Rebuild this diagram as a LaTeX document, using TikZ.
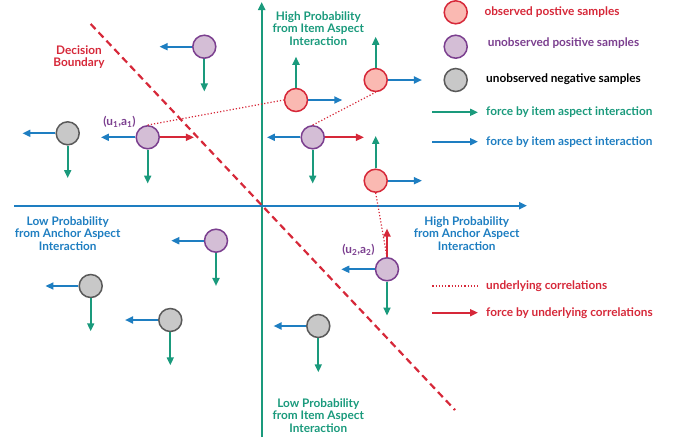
\documentclass[tikz,border=0pt]{standalone}
\usepackage{fontspec}
\setmainfont{Lato}[BoldFont={Lato Bold}]
\usetikzlibrary{arrows.meta}
\definecolor{cgreen}{RGB}{26,154,124}
\definecolor{cblue}{RGB}{30,126,193}
\definecolor{cred}{RGB}{214,40,57}
\definecolor{cpurple}{RGB}{123,63,143}
\definecolor{cpurplefill}{RGB}{212,190,214}
\definecolor{credfill}{RGB}{250,185,178}
\definecolor{cgrayfill}{RGB}{200,200,200}
\definecolor{cgraydraw}{RGB}{90,90,90}
\tikzset{
  txt/.style={font=\fontsize{11.8}{12.6}\selectfont\bfseries, align=center, inner sep=0pt},
  ltxt/.style={font=\fontsize{11.8}{12.6}\selectfont\bfseries, anchor=west, inner sep=0pt},
  smp/.style={circle, line width=1.5pt, minimum size=23pt, inner sep=0pt},
  obs/.style={smp, draw=cred, fill=credfill},
  unpos/.style={smp, draw=cpurple, fill=cpurplefill},
  unneg/.style={smp, draw=cgraydraw, fill=cgrayfill},
  tipstyle/.style={-{Triangle[length=8pt,width=7pt]}},
  garr/.style={tipstyle, draw=cgreen, fill=cgreen, line width=1.8pt},
  barr/.style={tipstyle, draw=cblue, fill=cblue, line width=1.8pt},
  rarr/.style={tipstyle, draw=cred, fill=cred, line width=1.8pt},
  corr/.style={draw=cred, line width=1.2pt, dotted},
  axisg/.style={tipstyle, draw=cgreen, line width=2.2pt},
  axisb/.style={tipstyle, draw=cblue, line width=2.2pt},
  boundary/.style={draw=cred, line width=2.2pt, dash pattern=on 7pt off 4.5pt},
}
\begin{document}
\begin{tikzpicture}[x=1pt,y=-1pt]
\useasboundingbox (0,0) rectangle (678,440);
% axes
\coordinate (vbot) at (261.7,437);
\coordinate (vtop) at (261.7,2);
\coordinate (hleft) at (14,205.7);
\coordinate (hright) at (527,205.7);
\draw[axisg] (vbot) -- (vtop);
\draw[axisb] (hleft) -- (hright);
% decision boundary
\coordinate (db1) at (90.7,24);
\coordinate (db2) at (455,410);
\draw[boundary] (db1) -- (db2);
% axis labels
\node[txt, text=cgreen] (hpi) at (318.3,28.3) {High Probability\\from Item Aspect\\Interaction};
\node[txt, text=cgreen] (lpi) at (318.3,415.5) {Low Probability\\from Item Aspect\\Interaction};
\node[txt, text=cblue] (lpa) at (67.7,233.3) {Low Probability\\from Anchor Aspect\\Interaction};
\node[txt, text=cblue] (hpa) at (466.7,233.3) {High Probability\\from Anchor Aspect\\Interaction};
\node[txt, text=cred] (dbl) at (79,57) {Decision\\Boundary};
% samples
\node[unpos] (pA) at (204.3,46.7) {};
\node[unneg] (gA) at (67.7,133.3) {};
\node[unpos] (u1) at (147.7,137.3) {};
\node[obs] (r1) at (296,100) {};
\node[obs] (r2) at (375.7,80) {};
\node[unpos] (pB) at (312.7,137.3) {};
\node[obs] (r3) at (375.7,180.7) {};
\node[unpos] (u2) at (387,269.3) {};
\node[unpos] (pC) at (216,240.7) {};
\node[unneg] (gB) at (90.7,286) {};
\node[unneg] (gC) at (170.3,320) {};
\node[unneg] (gD) at (318.3,326) {};
% labels of anchors
\node[txt, text=cpurple] (u1l) at (119.5,121.5) {(u\textsubscript{1},a\textsubscript{1})};
\node[txt, text=cpurple] (u2l) at (358.5,250) {(u\textsubscript{2},a\textsubscript{2})};
% correlations
\draw[corr] (u1.north) -- (r1.west);
\draw[corr] (pB.north) -- (r2.south);
\draw[corr] (r3.south) -- (u2.north);
% forces
\draw[barr] (pA.west) -- ++(-32.5,0);
\draw[garr] (pA.south) -- ++(0,32.5);
\draw[barr] (gA.west) -- ++(-33,0);
\draw[garr] (gA.south) -- ++(0,32.5);
\draw[barr] (u1.west) -- ++(-34.5,0);
\draw[garr] (u1.south) -- ++(0,34);
\draw[rarr] (u1.east) -- ++(34,0);
\draw[garr] (r1.north) -- ++(0,-31);
\draw[barr] (r1.east) -- ++(34,0);
\draw[garr] (r2.north) -- ++(0,-31);
\draw[barr] (r2.east) -- ++(34,0);
\draw[barr] (pB.west) -- ++(-33.5,0);
\draw[garr] (pB.south) -- ++(0,34);
\draw[rarr] (pB.east) -- ++(39,0);
\draw[garr] (r3.north) -- ++(0,-32.5);
\draw[barr] (r3.east) -- ++(34,0);
\draw[rarr] (u2.north) -- ++(0,-28.5);
\draw[barr] (u2.west) -- ++(-33.5,0);
\draw[garr] (u2.south) -- ++(0,34);
\draw[barr] (pC.west) -- ++(-32.5,0);
\draw[garr] (pC.south) -- ++(0,33);
\draw[barr] (gB.west) -- ++(-33,0);
\draw[garr] (gB.south) -- ++(0,33);
\draw[barr] (gC.west) -- ++(-33,0);
\draw[garr] (gC.south) -- ++(0,33);
\draw[barr] (gD.west) -- ++(-32.5,0);
\draw[garr] (gD.south) -- ++(0,34);
% legend
\node[obs] (lg1) at (455.7,12.3) {};
\node[ltxt, text=cred] (lt1) at (484.3,12.3) {observed postive samples};
\node[unpos] (lg2) at (455.7,46.7) {};
\node[ltxt, text=cpurple] (lt2) at (487.7,43.5) {unobserved positive samples};
\node[unneg] (lg3) at (455.7,80) {};
\node[ltxt, text=black] (lt3) at (486,79.5) {unobserved negative samples};
\coordinate (lga1) at (432.3,112.3);
\coordinate (lga2) at (478,112.3);
\draw[garr] (lga1) -- (lga2);
\node[ltxt, text=cgreen] (lt4) at (486,112.3) {force by item aspect interaction};
\coordinate (lgb1) at (432.3,141.7);
\coordinate (lgb2) at (478,141.7);
\draw[barr] (lgb1) -- (lgb2);
\node[ltxt, text=cblue] (lt5) at (486,141.7) {force by item aspect interaction};
\coordinate (lgc1) at (432.3,286);
\coordinate (lgc2) at (478.3,286);
\draw[corr] (lgc1) -- (lgc2);
\node[ltxt, text=cred] (lt6) at (486,286) {underlying correlations};
\coordinate (lgd1) at (432.3,312.7);
\coordinate (lgd2) at (478,312.7);
\draw[rarr] (lgd1) -- (lgd2);
\node[ltxt, text=cred] (lt7) at (486,312.7) {force by underlying correlations};
\end{tikzpicture}
\end{document}
